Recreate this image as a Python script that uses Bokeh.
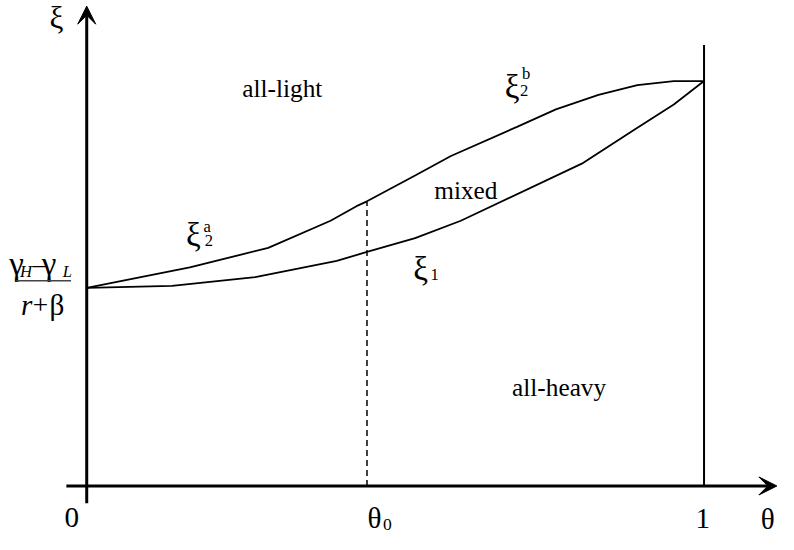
from bokeh.plotting import figure
from bokeh.models import Arrow, VeeHead, Range1d
from bokeh.core.properties import value
from bokeh.embed import file_html
from bokeh.resources import INLINE

# ---- data (theta on x, xi on y) ----
theta0 = 0.454
intercept = 0.489

xi1_theta = [0.0, 0.138, 0.273, 0.405, 0.454, 0.532, 0.606, 0.802, 0.887, 0.951, 1.0]
xi1_vals = [0.489, 0.494, 0.516, 0.556, 0.578, 0.612, 0.655, 0.796, 0.880, 0.942, 1.0]

xi2a_theta = [0.0, 0.167, 0.294, 0.395, 0.437, 0.454]
xi2a_vals = [0.489, 0.540, 0.588, 0.655, 0.691, 0.703]

xi2b_theta = [0.454, 0.532, 0.590, 0.697, 0.760, 0.829, 0.892, 0.951, 1.0]
xi2b_vals = [0.703, 0.767, 0.815, 0.887, 0.930, 0.966, 0.990, 1.0, 1.0]

FONT = value("Liberation Serif")
S = 0.975  # size scale of the figure relative to the reference

p = figure(width=778, height=534, output_backend="svg", toolbar_location=None,
           x_range=Range1d(-0.13968, 1.12063), y_range=Range1d(-0.1199, 1.19904),
           x_axis_location=None, y_axis_location=None, min_border=0)
p.grid.visible = False
p.outline_line_color = None
p.background_fill_color = "white"
p.border_fill_color = "white"

# axes with arrows
p.add_layout(Arrow(end=VeeHead(size=18, fill_color="black", line_color="black"),
                   x_start=-0.033, y_start=0.0, x_end=1.118, y_end=0.0,
                   line_width=3, line_color="black"))
p.add_layout(Arrow(end=VeeHead(size=18, fill_color="black", line_color="black"),
                   x_start=0.0, y_start=-0.043, x_end=0.0, y_end=1.185,
                   line_width=3, line_color="black"))

# vertical line at theta = 1
p.line([1.0, 1.0], [0.0, 1.089], line_width=2, line_color="black")
# dashed line at theta0
p.line([theta0, theta0], [0.0, xi2a_vals[-1]], line_width=1.5, line_color="black",
       line_dash="6 4")

# curves
p.line(xi1_theta, xi1_vals, line_width=1.8, line_color="black")
p.line(xi2a_theta, xi2a_vals, line_width=1.8, line_color="black")
p.line(xi2b_theta, xi2b_vals, line_width=1.8, line_color="black")


def txt(x, y, s, size, align="left", baseline="alphabetic", style="normal"):
    p.text(x=[x], y=[y], text=[s], text_font=FONT, text_font_size=f"{size * S:.1f}px",
           text_align=align, text_baseline=baseline, text_color="black",
           text_font_style=style)


# axis labels
txt(-0.049, 1.158, "ξ", 32, align="center", baseline="middle")
txt(-0.036, -0.079, "0", 30)
txt(theta0 + 0.012, -0.079, "θ", 30, align="center")
txt(theta0 + 0.026, -0.096, "0", 18)
txt(0.998, -0.0815, "1", 30, align="center")
txt(1.103, -0.0815, "θ", 30, align="center")

# region labels
txt(0.252, 0.983, "all-light", 26)
txt(0.563, 0.731, "mixed", 26)
txt(0.689, 0.245, "all-heavy", 26)

# curve labels
txt(0.677, 0.986, "ξ", 34)
txt(0.705, 1.019, "b", 17)
txt(0.702, 0.976, "2", 17)

txt(0.161, 0.621, "ξ", 34)
txt(0.189, 0.640, "a", 17)
txt(0.191, 0.607, "2", 17)

txt(0.529, 0.537, "ξ", 34)
txt(0.557, 0.523, "1", 17)

# intercept fraction (gamma_H - gamma_L) / (r + beta)
txt(-0.1254, 0.547, "γ", 34)
txt(-0.1080, 0.530, "H", 17, style="italic")
txt(-0.0880, 0.547, "–", 26)
txt(-0.0730, 0.547, "γ", 34)
txt(-0.0390, 0.530, "L", 17, style="italic")
p.line([-0.1143, -0.0254], [0.507, 0.507], line_width=1.5, line_color="#444444")
txt(-0.1063, 0.447, "r", 30, style="italic")
txt(-0.0873, 0.447, "+", 28)
txt(-0.0603, 0.447, "β", 30)

open("out.html", "w").write(file_html(p, INLINE))
